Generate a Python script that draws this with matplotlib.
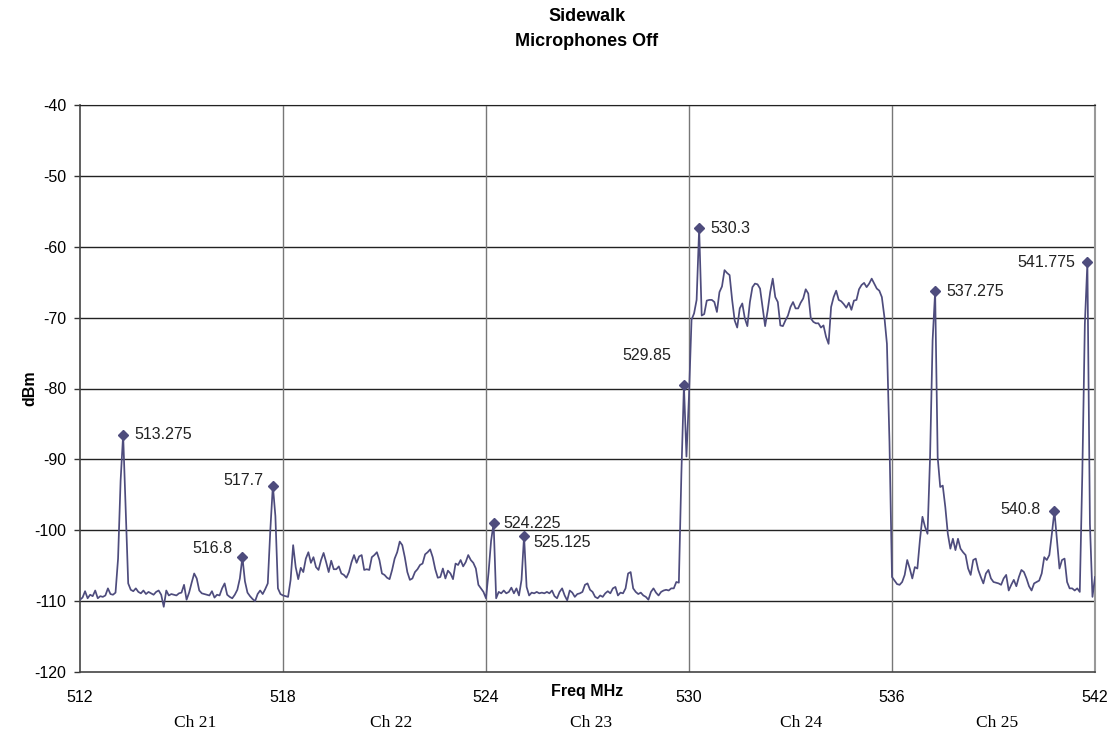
import matplotlib
matplotlib.use('Agg')
import matplotlib.pyplot as plt
import matplotlib.transforms as mtransforms
import numpy as np

# spectrum sweep, 512-542 MHz, 401 points (0.075 MHz step)
f_start = 512.0
f_step = 0.075
dbm = [
    -109.8, -109.5, -108.6, -109.6, -109.1, -109.3, -108.5, -109.6, -109.3, -109.4,
    -109.2, -108.2, -109.0, -109.1, -108.8, -104.0, -93.0, -86.5, -97.0, -107.5,
    -108.4, -108.6, -108.2, -108.7, -108.9, -108.5, -109.0, -108.7, -108.9, -109.1,
    -108.7, -108.5, -109.1, -110.8, -108.5, -109.2, -109.0, -109.1, -109.2, -108.9,
    -108.8, -107.7, -109.8, -108.8, -107.4, -106.1, -106.8, -108.5, -108.9, -109.0,
    -109.1, -109.2, -108.6, -109.5, -109.1, -109.2, -108.2, -107.5, -109.1, -109.4,
    -109.6, -109.1, -108.4, -106.8, -103.8, -107.2, -108.8, -109.3, -109.7, -110.0,
    -109.0, -108.5, -109.0, -108.3, -107.5, -100.0, -93.7, -98.0, -108.2, -109.0,
    -109.2, -109.3, -109.4, -107.0, -102.1, -105.2, -106.9, -105.3, -105.9, -104.0,
    -103.1, -104.6, -103.8, -105.2, -105.6, -104.2, -103.2, -104.5, -105.9, -104.3,
    -105.5, -105.5, -105.1, -106.1, -106.3, -106.7, -105.9, -104.5, -103.5, -104.6,
    -103.7, -103.5, -105.6, -105.5, -105.6, -103.8, -103.5, -103.1, -104.2, -106.1,
    -106.3, -106.7, -106.9, -105.6, -104.0, -103.1, -101.6, -102.1, -103.8, -105.9,
    -107.0, -106.8, -105.9, -105.5, -104.9, -104.7, -103.4, -103.1, -102.7, -103.8,
    -105.5, -106.7, -106.6, -105.4, -106.8, -105.7, -106.1, -106.9, -104.7, -104.9,
    -104.2, -105.1, -104.5, -103.5, -104.2, -104.6, -105.4, -107.7, -108.2, -108.7,
    -109.6, -106.0, -101.5, -99.0, -109.6, -108.7, -108.9, -108.5, -108.9, -108.7,
    -108.1, -108.9, -108.2, -109.2, -107.0, -100.8, -108.0, -109.2, -108.8, -108.9,
    -108.7, -108.9, -108.8, -108.9, -108.7, -108.9, -108.5, -109.3, -109.6, -108.7,
    -108.2, -109.2, -109.9, -108.5, -108.8, -109.4, -109.0, -108.9, -108.7, -107.7,
    -107.5, -108.4, -108.7, -109.4, -109.6, -109.2, -109.4, -108.9, -108.6, -108.9,
    -108.2, -108.0, -109.2, -108.8, -108.9, -108.2, -106.1, -105.9, -108.2, -108.7,
    -109.0, -108.8, -109.2, -109.4, -109.8, -108.7, -108.2, -108.8, -109.2, -108.7,
    -108.5, -108.4, -108.5, -108.2, -108.2, -107.3, -107.4, -92.0, -79.5, -89.6,
    -81.0, -70.3, -69.4, -67.5, -57.4, -69.7, -69.5, -67.6, -67.5, -67.5,
    -67.8, -69.2, -66.4, -65.6, -63.3, -63.7, -64.0, -67.5, -70.4, -71.4,
    -68.7, -68.0, -70.1, -71.2, -67.8, -65.7, -65.2, -65.3, -65.9, -68.5,
    -71.2, -69.0, -66.4, -64.5, -67.1, -67.8, -71.1, -71.2, -70.4, -69.7,
    -68.5, -67.8, -68.7, -68.7, -67.9, -67.3, -66.0, -66.6, -70.1, -70.6,
    -70.8, -70.8, -71.4, -71.1, -72.7, -73.7, -68.5, -67.1, -66.2, -67.5,
    -67.7, -68.1, -68.6, -67.9, -68.9, -67.6, -67.5, -66.0, -65.4, -65.1,
    -65.7, -65.2, -64.5, -65.2, -65.9, -66.2, -67.1, -69.9, -73.7, -87.5,
    -106.6, -107.1, -107.6, -107.7, -107.3, -106.3, -104.2, -105.4, -106.8, -105.2,
    -105.4, -101.4, -98.1, -99.5, -100.5, -89.7, -73.2, -66.3, -89.7, -93.9,
    -93.7, -96.7, -100.5, -102.6, -101.2, -102.8, -101.2, -102.6, -103.1, -103.5,
    -105.4, -106.3, -104.2, -104.0, -105.6, -106.6, -107.5, -106.1, -105.6, -106.8,
    -107.3, -107.4, -107.5, -107.7, -106.8, -106.3, -108.5, -107.7, -107.0, -107.9,
    -106.6, -105.6, -105.9, -106.8, -107.9, -108.5, -107.5, -107.3, -107.1, -106.1,
    -103.8, -104.2, -103.5, -100.5, -97.3, -101.4, -105.4, -104.2, -104.0, -107.3,
    -108.2, -108.2, -108.5, -108.2, -108.7, -92.0, -70.9, -62.2, -99.1, -109.4,
    -106.6,
]
freq = f_start + f_step * np.arange(len(dbm))

# marked peaks
peak_freqs = [513.275, 516.8, 517.7, 524.225, 525.125, 529.85, 530.3, 537.275, 540.8, 541.775]
peak_labels = ['513.275', '516.8', '517.7', '524.225', '525.125', '529.85', '530.3', '537.275', '540.8', '541.775']
# label offsets in points (dx, dy) and alignment
lbl_off = [(8, 0), (-7, 6), (-7, 4), (7, 0), (7, -5), (-9, 21), (8, 0), (8, 0), (-10, 1), (-9, 0)]
lbl_ha = ['left', 'right', 'right', 'left', 'left', 'right', 'left', 'left', 'right', 'right']

channels = ['Ch 21', 'Ch 22', 'Ch 23', 'Ch 24', 'Ch 25']
ch_pos = [515.4, 521.2, 527.1, 533.3, 539.1]

x_ticks = [512, 518, 524, 530, 536, 542]
y_ticks = [-120, -110, -100, -90, -80, -70, -60, -50, -40]

line_c = '#4e4c7d'

fig = plt.figure(figsize=(11.17, 7.38), dpi=100)
ax = fig.add_axes([80 / 1117, 1 - 672 / 738, 1015 / 1117, 567 / 738])

ax.plot(freq, dbm, color=line_c, lw=1.25, zorder=3)

idx = [int(round((p - f_start) / f_step)) for p in peak_freqs]
px = [freq[k] for k in idx]
py = [dbm[k] for k in idx]
ax.plot(px, py, 'D', color=line_c, ms=5.5, zorder=4)
for x, y, t, off, ha in zip(px, py, peak_labels, lbl_off, lbl_ha):
    ax.annotate(t, (x, y), xytext=off, textcoords='offset points', ha=ha, va='center',
                fontsize=11.5, family='Liberation Sans', color='#222222')

ax.set_xlim(512, 542)
ax.set_ylim(-120, -40)
ax.set_xticks(x_ticks)
ax.set_yticks(y_ticks)
ax.set_xticklabels([str(v) for v in x_ticks], family='Liberation Sans', fontsize=11.5)
ax.set_yticklabels([str(v) for v in y_ticks], family='Liberation Sans', fontsize=11.5)
ax.tick_params(axis='x', length=0, pad=13)
ax.tick_params(axis='y', length=4, width=1, pad=6, color='#333333')

for v in y_ticks[1:]:
    ax.axhline(v, color='#222222', lw=1.0, zorder=1)
for v in x_ticks[1:-1]:
    ax.axvline(v, color='#777777', lw=1.0, zorder=1)

for s in ['left', 'bottom']:
    ax.spines[s].set_color('#444444')
    ax.spines[s].set_linewidth(1.2)
ax.spines['right'].set_color('#999999')
ax.spines['right'].set_linewidth(1.5)
ax.spines['top'].set_color('#222222')

ax.text(0.5, -0.035, 'Freq MHz', transform=ax.transAxes, ha='center', va='center',
        fontsize=11.5, fontweight='bold', family='Liberation Sans')
trans = mtransforms.blended_transform_factory(ax.transData, ax.transAxes)
for c, p in zip(channels, ch_pos):
    ax.text(p, -0.09, c, transform=trans, ha='center', va='center',
            fontsize=12.5, family='Liberation Serif')

fig.text(30 / 1117, 1 - 388 / 738, 'dBm', rotation=90, ha='center', va='center',
         fontsize=11.5, fontweight='bold', family='Liberation Sans')
fig.text(587 / 1117, 1 - 29 / 738, 'Sidewalk\nMicrophones Off', ha='center', va='center',
         fontsize=13, fontweight='bold', family='Liberation Sans', linespacing=1.6)

fig.savefig('out.png', dpi=100)
